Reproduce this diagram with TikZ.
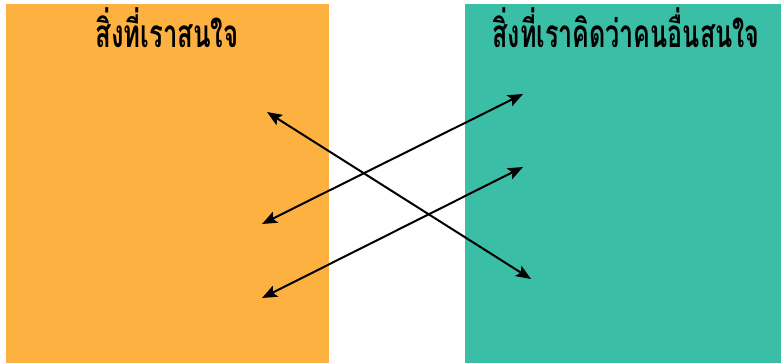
\documentclass[tikz,border=0pt]{standalone}
\usepackage{fontspec}
\newfontfamily\thaifont[Script=Thai]{Loma}
\usetikzlibrary{arrows.meta}
\definecolor{orangebox}{HTML}{FDB140}
\definecolor{tealbox}{HTML}{3ABEA5}
\begin{document}
\begin{tikzpicture}[x=1pt,y=-1pt,
  title/.style={font=\thaifont\bfseries\fontsize{26}{30}\selectfont, text=black, inner sep=0pt, anchor=base},
  link/.style={line width=2pt, {Stealth[length=15pt,width=12pt,inset=3pt]}-{Stealth[length=15pt,width=12pt,inset=3pt]}}]
  \useasboundingbox[fill=white] (0,0) rectangle (781,363);
  \fill[orangebox] (6,4) rectangle (329,363);
  \fill[tealbox] (465,4) rectangle (781,363);
  \node[title] (t1) at (167,48) {\resizebox*{143pt}{40pt}{สิ่งที่เราสนใจ}};
  \node[title] (t2) at (626,48) {\resizebox*{267pt}{40pt}{สิ่งที่เราคิดว่าคนอื่นสนใจ}};
  \coordinate (a1) at (267,112);
  \coordinate (b1) at (531,279);
  \coordinate (a2) at (262,224);
  \coordinate (b2) at (523,94);
  \coordinate (a3) at (262,298);
  \coordinate (b3) at (523,167);
  \draw[link] (a1) -- (b1);
  \draw[link] (a2) -- (b2);
  \draw[link] (a3) -- (b3);
\end{tikzpicture}
\end{document}
